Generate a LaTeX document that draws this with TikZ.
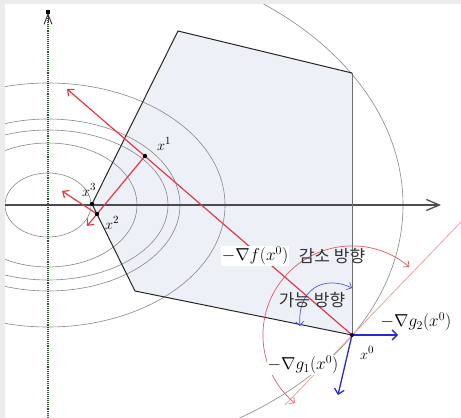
\documentclass[tikz,border=0pt]{standalone}
\usepackage{fontspec}
\newfontfamily\kor{Noto Sans CJK KR}
\usetikzlibrary{arrows.meta}
\definecolor{polyfill}{RGB}{238,240,247}
\definecolor{redln}{RGB}{226,58,70}
\definecolor{pinkln}{RGB}{242,160,160}
\definecolor{blueln}{RGB}{40,40,215}
\definecolor{contour}{RGB}{135,135,135}
\definecolor{framegray}{RGB}{236,236,236}
\definecolor{axisgreen}{RGB}{35,85,40}
\definecolor{edgegray}{RGB}{110,110,110}
\begin{document}
\begin{tikzpicture}[x=1pt,y=1pt,
  contourln/.style={draw=contour, line width=0.6pt},
  redarrow/.style={draw=redln, line width=1.2pt, -{Straight Barb[length=5pt,width=9pt]}},
  redline/.style={draw=redln, line width=1.2pt},
  bluearrow/.style={draw=blueln, line width=1.3pt, -{Straight Barb[length=5pt,width=10pt]}},
  thinred/.style={draw=redln!85, line width=0.7pt, {Straight Barb[length=4pt,width=8pt]}-{Straight Barb[length=4pt,width=8pt]}},
  thinblue/.style={draw=blueln!80, line width=0.7pt, {Straight Barb[length=4pt,width=8pt]}-{Straight Barb[length=4pt,width=8pt]}},
  ptdot/.style={circle, fill=black, inner sep=0pt, minimum size=4.4pt},
  ptlabel/.style={inner sep=0.5pt, font=\fontsize{15}{15}\selectfont},
  gradlabel/.style={inner sep=1pt, font=\fontsize{17}{17}\selectfont},
  korlabel/.style={inner sep=0pt, text=black!80, font=\kor\fontsize{17}{17}\selectfont}
]
\useasboundingbox (0,0) rectangle (461,418);
% named points
\coordinate (O) at (48,213);
\coordinate (P1) at (178,387);
\coordinate (P2) at (352,345);
\coordinate (X0) at (352,83);
\coordinate (P4) at (135,127);
\coordinate (X3) at (92,214);
\coordinate (X2) at (97,204);
\coordinate (X1) at (145,262);
\coordinate (F) at (67,329);
\coordinate (R2) at (87,192);
\coordinate (R3) at (62,227);
\coordinate (G2) at (398,83);
\coordinate (G1) at (338,23);
\coordinate (T1) at (285,13);
\coordinate (T2) at (461,196);
\coordinate (H0) at (5,213);
\coordinate (H1) at (441,213);
\coordinate (V0) at (48,0);
\coordinate (V1) at (48,405);
\coordinate (BA) at (300,92);
\coordinate (BB) at (352,130);

\begin{scope}
\clip (5,0) rectangle (461,414);
% feasible region
\fill[polyfill] (P1) -- (P2) -- (X0) -- (P4) -- (X3) -- cycle;
% contours
\draw[contourln] (O) ellipse [x radius=43, y radius=32];
\draw[contourln] (O) ellipse [x radius=89, y radius=62];
\draw[contourln] (O) ellipse [x radius=120, y radius=75];
\draw[contourln] (O) ellipse [x radius=132, y radius=86];
\draw[contourln] (O) ellipse [x radius=177, y radius=122];
\draw[contourln] (O) ellipse [x radius=355, y radius=253];
% axes
\draw[black!70, line width=1.3pt, -{Straight Barb[length=13pt,width=11pt]}] (H0) -- (H1);
\draw[axisgreen, line width=1.1pt, densely dotted] (V0) -- (V1);
\draw[black!75, line width=1pt, -{Straight Barb[length=10pt,width=8pt]}] (48,395) -- (V1);
\node[fill=black, inner sep=0pt, minimum size=3.5pt] (vsq) at (48,406) {};
% polygon edges
\draw[black!85, line width=1pt] (P2) -- (P1) -- (X3) -- (P4) -- (X0);
\draw[edgegray, line width=1pt] (P2) -- (X0);
% tangent line
\draw[pinkln, line width=0.8pt] (T1) -- (T2);
% red arcs and lines
\draw[thinred] (X0) ++(50:89) arc[start angle=50, end angle=230, radius=89];
\draw[redarrow] (X0) -- (F);
\draw[redline] (X1) -- (X2);
\draw[redarrow] (X2) -- (R2);
\draw[redarrow] (X2) -- (R3);
% blue
\draw[bluearrow] (X0) -- (G2);
\draw[bluearrow] (X0) -- (G1);
\draw[thinblue] (BA) .. controls (297,130) and (325,143) .. (BB);
% points
\node[ptdot] (d1) at (X1) {};
\node[ptdot] (d2) at (X2) {};
\node[ptdot] (d3) at (X3) {};
\node[ptdot, minimum size=4pt, fill=black!80!blue] (d0) at (X0) {};
% labels
\node[ptlabel] (lx1) at (164,274) {$x^1$};
\node[ptlabel] (lx3) at (89,228) {$x^3$};
\node[ptlabel] (lx2) at (112,195) {$x^2$};
\node[ptlabel] (lx0) at (367,65) {$x^0$};
\node[gradlabel, fill=white] (lf) at (255,162) {$-\nabla f(x^0)$};
\node[korlabel] (lk1) at (332,162) {감소 방향};
\node[korlabel] (lk2) at (312,118) {가능 방향};
\node[gradlabel] (lg2) at (416,96) {$-\nabla g_2(x^0)$};
\node[gradlabel, fill=white] (lg1) at (303,53) {$-\nabla g_1(x^0)$};
\end{scope}
% frame bands
\fill[framegray] (0,414) rectangle (461,418);
\fill[framegray] (0,0) rectangle (5,418);
\end{tikzpicture}
\end{document}
